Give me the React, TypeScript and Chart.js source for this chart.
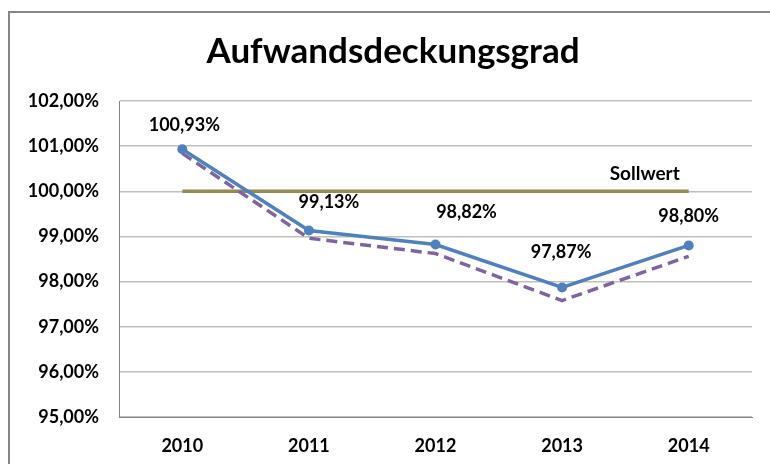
import React, { useEffect, useRef } from "react";
import { Chart, registerables } from "chart.js";

Chart.register(...registerables);

const categories = ["2010", "2011", "2012", "2013", "2014"];
const istValues = [100.93, 99.13, 98.82, 97.87, 98.8];
const planValues = [100.84, 98.96, 98.62, 97.58, 98.56];
const sollValues = [100, 100, 100, 100, 100];
const sollLabel = "Sollwert";
const titleText = "Aufwandsdeckungsgrad";

const FONT = "Lato, 'Open Sans', sans-serif";

const fmt = (v: number) => v.toFixed(2).replace(".", ",") + "%";

const labelOffsets = [
  [2, -24],
  [20, -28],
  [31, -32],
  [-1, -35],
  [0, -29],
];

const decorPlugin = {
  id: "decor",
  beforeDraw(chart: any) {
    const { ctx } = chart;
    ctx.save();
    ctx.fillStyle = "#ffffff";
    ctx.fillRect(0, 0, chart.width, chart.height);
    ctx.strokeStyle = "#868686";
    ctx.lineWidth = 2;
    ctx.beginPath();
    ctx.moveTo(9, chart.height + 5);
    ctx.lineTo(9, 12);
    ctx.lineTo(chart.width + 5, 12);
    ctx.stroke();
    ctx.restore();
  },
  afterDatasetsDraw(chart: any) {
    const { ctx } = chart;
    ctx.save();
    ctx.fillStyle = "#000000";
    ctx.textAlign = "center";
    ctx.textBaseline = "middle";
    ctx.font = `bold 35px ${FONT}`;
    ctx.fillText(titleText, 393, 52);

    ctx.font = `bold 18px ${FONT}`;
    const meta = chart.getDatasetMeta(0);
    meta.data.forEach((pt: any, i: number) => {
      const [dx, dy] = labelOffsets[i];
      ctx.fillText(fmt(istValues[i]), pt.x + dx, pt.y + dy);
    });

    const sMeta = chart.getDatasetMeta(2);
    const last = sMeta.data[sMeta.data.length - 1];
    ctx.font = `bold 19px ${FONT}`;
    ctx.fillText(sollLabel, last.x - 44, last.y - 17);
    ctx.restore();
  },
};

export default function App() {
  const ref = useRef<HTMLCanvasElement | null>(null);
  useEffect(() => {
    if (!ref.current) return;
    const chart = new Chart(ref.current, {
      type: "line",
      data: {
        labels: categories,
        datasets: [
          {
            label: "Ist",
            data: istValues,
            borderColor: "#4f81bd",
            backgroundColor: "#4f81bd",
            borderWidth: 3.5,
            pointRadius: 5,
            pointBackgroundColor: "#4f81bd",
            pointBorderWidth: 0,
            tension: 0,
          },
          {
            label: "Plan",
            data: planValues,
            borderColor: "#8064a2",
            borderWidth: 3.5,
            borderDash: [11, 6],
            pointRadius: 0,
            tension: 0,
          },
          {
            label: sollLabel,
            data: sollValues,
            borderColor: "#948a54",
            borderWidth: 3.5,
            pointRadius: 0,
            tension: 0,
          },
        ],
      },
      options: {
        responsive: false,
        animation: false,
        layout: { padding: { left: 0, right: 18, top: 101, bottom: 0 } },
        plugins: {
          legend: { display: false },
          title: { display: false },
          tooltip: { enabled: false },
        },
        scales: {
          x: {
            offset: true,
            grid: { display: false, drawTicks: false },
            border: { display: true, color: "#868686", width: 1 },
            ticks: {
              color: "#000",
              font: { family: FONT, weight: "bold", size: 18 },
              padding: 18,
              maxRotation: 0,
            },
            afterFit: (s: any) => {
              s.height = 47;
            },
          },
          y: {
            min: 95,
            max: 102,
            grid: { color: "#bfbfbf", lineWidth: 1.5, drawTicks: false },
            border: { display: true, color: "#868686", width: 1 },
            ticks: {
              stepSize: 1,
              color: "#000",
              font: { family: FONT, weight: "bold", size: 18 },
              padding: 20,
              callback: (v: any) => fmt(Number(v)),
            },
            afterFit: (s: any) => {
              s.width = 119;
            },
          },
        },
      },
      plugins: [decorPlugin],
    });
    return () => chart.destroy();
  }, []);
  return (
    <div style={{ position: "fixed", left: 0, top: 0, width: 770, height: 464 }}>
      <canvas ref={ref} width={770} height={464} style={{ display: "block" }} />
    </div>
  );
}
